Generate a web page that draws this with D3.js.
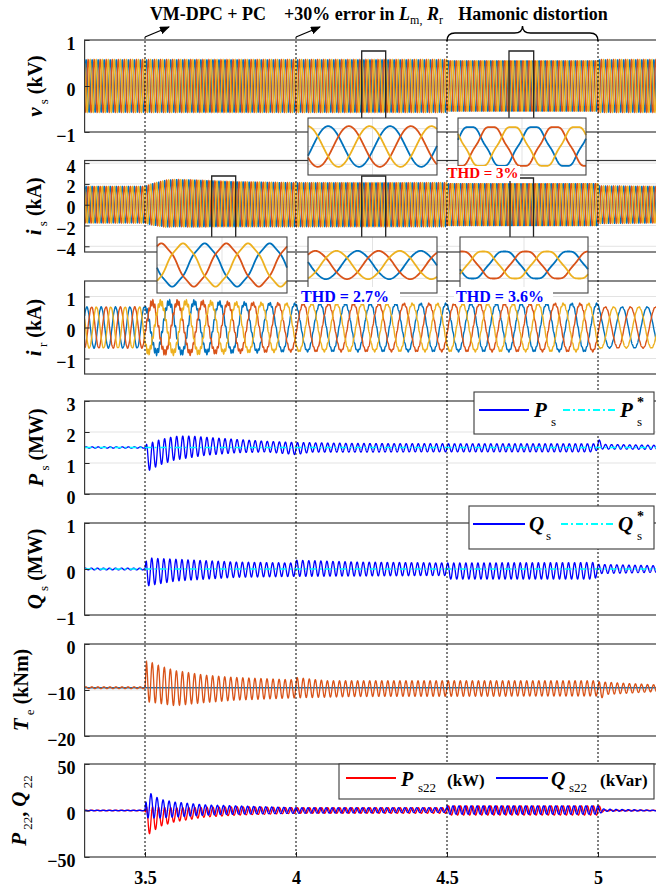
<!DOCTYPE html>
<html>
<head>
<meta charset="utf-8">
<script src="https://cdn.jsdelivr.net/npm/d3@7"></script>
<style>
body { margin: 0; background: #fff; }
svg { display: block; font-family: "Liberation Serif", "Times New Roman", serif; }
svg text { font-family: "Liberation Serif", "Times New Roman", serif; }
</style>
</head>
<body>
<div id="chart"></div>
<script>
// ---- data ----
var xTicks = [3.5, 4, 4.5, 5];
var eventTimes = [3.5, 4, 4.5, 5];
var titleTexts = ["VM-DPC + PC", "+30% error in ", "Hamonic distortion"];
var thdTexts = ["THD = 3%", "THD = 2.7%", "THD = 3.6%"];
var phaseColors = ["#0072BD", "#D95319", "#EDB120"];

// envelopes as [time, value] knots
var vsAmp = [[3.3, 0.57], [5.2, 0.57]];
var vsHarm = [[3.3, 0], [4.5, 0], [4.5, -0.05], [5, -0.05], [5, 0], [5.2, 0]];
var isAmp = [[3.3, 1.75], [3.5, 1.75], [3.52, 1.95], [3.57, 2.25], [3.65, 2.25], [3.8, 2.15], [4.0, 2.1], [5.0, 2.1], [5.0, 1.8], [5.2, 1.75]];
var isOffset = [[3.3, 0], [3.5, 0], [3.6, 0.15], [3.8, 0.05], [4.0, 0], [5.2, 0]];
var isHarm = [[3.3, 0], [4.5, 0], [4.5, -0.04], [5, -0.04], [5, 0], [5.2, 0]];
var irAmp = [[3.3, 0.66], [3.5, 0.66], [3.51, 0.8], [3.65, 0.82], [3.8, 0.78], [4.0, 0.76], [5.0, 0.76], [5.01, 0.66], [5.2, 0.66]];
var irFreq = [[3.3, 21], [3.5, 12], [5.2, 12]];
var irRipple = [[3.3, 0.01], [3.5, 0.01], [3.505, 0.1], [3.8, 0.06], [4.0, 0.03], [5.0, 0.03], [5.0, 0.01], [5.2, 0.01]];

var psUpper = [[3.3, 1.52], [3.5, 1.52], [3.505, 1.6], [3.55, 1.75], [3.6, 1.86], [3.65, 1.87], [3.7, 1.83], [3.8, 1.76], [3.9, 1.7], [4.0, 1.66], [4.2, 1.63], [4.5, 1.62], [4.99, 1.62], [5.0, 1.78], [5.02, 1.6], [5.2, 1.57]];
var psLower = [[3.3, 1.48], [3.5, 1.48], [3.505, 0.72], [3.53, 0.85], [3.56, 0.98], [3.6, 1.1], [3.7, 1.25], [3.8, 1.33], [3.9, 1.36], [4.0, 1.27], [4.05, 1.35], [4.5, 1.36], [4.99, 1.36], [5.0, 1.45], [5.2, 1.44]];
var psRef = 1.5;
var qsUpper = [[3.3, 0.02], [3.5, 0.02], [3.505, 0.24], [3.6, 0.21], [3.8, 0.15], [3.99, 0.13], [4.0, 0.19], [4.2, 0.15], [4.5, 0.13], [4.99, 0.14], [5.0, 0.1], [5.2, 0.07]];
var qsLower = [[3.3, -0.02], [3.5, -0.02], [3.505, -0.37], [3.6, -0.26], [3.8, -0.18], [4.0, -0.16], [4.5, -0.14], [4.5, -0.22], [4.99, -0.22], [5.0, -0.1], [5.2, -0.07]];
var qsRef = 0;
var teUpper = [[3.3, -9.3], [3.5, -9.3], [3.505, -3.6], [3.55, -4.8], [3.6, -5.8], [3.7, -6.8], [3.8, -7.3], [3.99, -7.8], [4.0, -7.3], [4.1, -8.0], [4.99, -8.0], [5.0, -8.2], [5.1, -8.6], [5.2, -8.9]];
var teLower = [[3.3, -9.7], [3.5, -9.7], [3.505, -12.5], [3.6, -13.4], [3.7, -12.7], [3.8, -12.2], [4.0, -11.7], [4.2, -11.4], [5.0, -11.3], [5.005, -12.6], [5.02, -11], [5.2, -10.3]];
var teRef = -9.5;
var p22Upper = [[3.3, 0.3], [3.5, 0.3], [3.505, 4], [3.6, 3], [3.8, 4], [4.0, 3], [4.5, 3], [4.5, 5], [4.99, 5], [5.0, 6], [5.02, 0.5], [5.2, 0.3]];
var p22Lower = [[3.3, -0.3], [3.5, -0.3], [3.505, -27], [3.55, -17], [3.6, -12], [3.7, -7], [3.8, -5], [4.0, -3], [4.5, -3], [4.5, -5], [5.0, -5], [5.02, -0.5], [5.2, -0.3]];
var q22Upper = [[3.3, 0.3], [3.5, 0.3], [3.505, 21], [3.55, 12], [3.6, 9], [3.7, 6], [3.8, 5], [4.0, 3], [4.5, 3], [4.5, 5], [5.0, 5], [5.02, 1.5], [5.2, 0.3]];
var q22Lower = [[3.3, -0.3], [3.5, -0.3], [3.505, -8], [3.55, -8], [3.6, -7], [3.7, -5], [3.8, -4], [4.0, -3], [4.5, -2], [4.5, -4], [5.0, -4], [5.02, -1], [5.2, -0.3]];

// zoomed insets: start phase (deg), cycles shown, amplitude, 5th harmonic, y range, grid step
var insetPhase = [-27, 22, 186, 168, 200];
var insetCycles = [2.08, 2.01, 2.0, 2.04, 2.0];
var insetAmp = [0.57, 0.57, 2.3, 2.1, 2.1];
var insetHarm = [0, -0.05, 0.04, 0.01, -0.035];
var insetYMax = [0.8, 0.8, 3.1, 4.2, 4.2];
var insetGrid = [0.5, 0.5, 2, 2, 2];

// ---- layout ----
var W = 656, H = 892;
var svg = d3.select("#chart").append("svg").attr("width", W).attr("height", H);
var x = d3.scaleLinear().domain([3.3, 5.2]).range([84.6, 658.4]);
var times = d3.range(3.3, 5.2001, 0.0004);
var SERIF = "'Liberation Serif', 'Times New Roman', serif";

function env(k, t) {
    if (t <= k[0][0]) return k[0][1];
    var i = k.length - 1;
    while (i > 0 && k[i][0] > t) i--;
    if (i === k.length - 1) return k[i][1];
    var a = k[i], b = k[i + 1];
    return a[1] + (b[1] - a[1]) * (t - a[0]) / (b[0] - a[0]);
}

var panels = [
    {top: 40, bottom: 132, dom: [-1, 1], ticks: [-1, 0, 1], labX: 42,
     label: [["v", "m"], [" s", "sub"], [" (kV)", "b"]]},
    {top: 160.5, bottom: 252, dom: [-4.55, 4.25], ticks: [-4, -2, 0, 2, 4], labX: 41,
     label: [["i", "m"], [" s", "sub"], [" (kA)", "b"]]},
    {top: 281, bottom: 374, dom: [-1.5, 1.5], ticks: [-1, 0, 1], labX: 41,
     label: [["i", "m"], [" r", "sub"], [" (kA)", "b"]]},
    {top: 401, bottom: 494, dom: [0, 3], ticks: [0, 1, 2, 3], labX: 43,
     label: [["P", "m"], [" s", "sub"], [" (MW)", "b"]]},
    {top: 523, bottom: 615, dom: [-1, 1], ticks: [-1, 0, 1], labX: 42,
     label: [["Q", "m"], [" s", "sub"], [" (MW)", "b"]]},
    {top: 644, bottom: 736, dom: [-20, 0], ticks: [-20, -10, 0], labX: 28,
     label: [["T", "m"], [" e", "sub"], [" (kNm)", "b"]]},
    {top: 764, bottom: 857, dom: [-50, 50], ticks: [-50, 0, 50], labX: 26,
     label: [["P", "m"], [" 22", "sub"], [", ", "b"], ["Q", "m"], [" 22", "sub"]]}
];

var defs = svg.append("defs");
defs.append("marker").attr("id", "arrow").attr("markerUnits", "userSpaceOnUse")
    .attr("markerWidth", 10).attr("markerHeight", 8).attr("refX", 9).attr("refY", 4)
    .attr("orient", "auto")
    .append("path").attr("d", "M0,0 L10,4 L0,8 Z").attr("fill", "#000");

panels.forEach(function (p, i) {
    p.y = d3.scaleLinear().domain(p.dom).range([p.bottom, p.top]);
    defs.append("clipPath").attr("id", "clip" + i).append("rect")
        .attr("x", x.range()[0]).attr("y", p.top)
        .attr("width", x.range()[1] - x.range()[0]).attr("height", p.bottom - p.top);
    var g = svg.append("g");
    p.g = g;
    // grid
    g.selectAll(".grid").data(p.ticks.filter(function (d) { return d !== p.dom[0] && d !== p.dom[1]; }))
        .enter().append("line")
        .attr("x1", x.range()[0]).attr("x2", x.range()[1])
        .attr("y1", function (d) { return p.y(d); }).attr("y2", function (d) { return p.y(d); })
        .attr("stroke", "#e3e3e3").attr("stroke-width", 1);
    p.plot = g.append("g").attr("clip-path", "url(#clip" + i + ")");
});

var lineOf = function (p) {
    return d3.line().x(function (d) { return x(d[0]); }).y(function (d) { return p.y(d[1]); });
};

// three phase strips
function threePhase(p, theta, ampK, harmK, offK, ripK) {
    [0, 1, 2].forEach(function (k) {
        var sh = [0, 120, -120][k] * Math.PI / 180;
        var pts = times.map(function (t, i) {
            var th = theta[i] - sh;
            var v = env(ampK, t) * (Math.sin(th) + (harmK ? env(harmK, t) : 0) * Math.sin(5 * th));
            if (offK) v += env(offK, t);
            if (ripK) v += env(ripK, t) * Math.sin(2 * Math.PI * 150 * t + 2.1 * k);
            return [t, v];
        });
        p.plot.append("path").attr("d", lineOf(p)(pts)).attr("fill", "none")
            .attr("stroke", phaseColors[k]).attr("stroke-width", 1.4);
    });
}
var theta50 = times.map(function (t) { return 2 * Math.PI * 50 * t; });
threePhase(panels[0], theta50, vsAmp, vsHarm, null, null);
threePhase(panels[1], theta50, isAmp, isHarm, isOffset, null);
var thR = [], acc = 0;
var irFreqStep = [[3.3, irFreq[0][1]], [3.4999, irFreq[0][1]], [3.5, irFreq[1][1]], [5.2, irFreq[2][1]]];
times.forEach(function (t, i) {
    if (i > 0) acc += 2 * Math.PI * env(irFreqStep, t) * (t - times[i - 1]);
    thR.push(acc + 0.6);
});
threePhase(panels[2], thR, irAmp, null, null, irRipple);

// oscillating single signals
function osc(upK, loK, ph) {
    return times.map(function (t) {
        var u = env(upK, t), l = env(loK, t);
        return [t, (u + l) / 2 + (u - l) / 2 * Math.sin(2 * Math.PI * 50 * t + ph)];
    });
}
function refLine(p, v, color, dash) {
    p.plot.append("line").attr("x1", x(3.3)).attr("x2", x(5.2))
        .attr("y1", p.y(v)).attr("y2", p.y(v))
        .attr("stroke", color).attr("stroke-width", 1.6).attr("stroke-dasharray", dash);
}
function drawSig(p, pts, color) {
    p.plot.append("path").attr("d", lineOf(p)(pts)).attr("fill", "none")
        .attr("stroke", color).attr("stroke-width", 1.3);
}
drawSig(panels[3], osc(psUpper, psLower, 0), "#0000FF");
refLine(panels[3], psRef, "#00FFFF", "7,3,2,3");
drawSig(panels[4], osc(qsUpper, qsLower, 0.8), "#0000FF");
refLine(panels[4], qsRef, "#00FFFF", "7,3,2,3");
refLine(panels[5], teRef, "#0072BD", null);
drawSig(panels[5], osc(teUpper, teLower, 0.3), "#D95319");
drawSig(panels[6], osc(p22Upper, p22Lower, 0), "#FF0000");
drawSig(panels[6], osc(q22Upper, q22Lower, 1.6), "#0000FF");

// axes, boxes, labels
panels.forEach(function (p, i) {
    var ax = p.g.append("g").attr("transform", "translate(" + x.range()[0] + ",0)")
        .call(d3.axisLeft(p.y).tickValues(p.ticks).tickFormat(d3.format("~g"))
            .tickSizeInner(-5).tickSizeOuter(0).tickPadding(9));
    ax.select(".domain").remove();
    ax.attr("font-family", null);
    ax.selectAll("line").attr("stroke", "#262626");
    ax.selectAll("text").style("font-size", "18px").style("font-weight", "bold")
        .style("font-family", SERIF).attr("fill", "#000").attr("dy", "0.5em");
    p.g.append("rect").attr("x", x.range()[0]).attr("y", p.top)
        .attr("width", x.range()[1] - x.range()[0]).attr("height", p.bottom - p.top)
        .attr("fill", "none").attr("stroke", "#3a3a3a").attr("stroke-width", 1.2);
    var cy = (p.top + p.bottom) / 2;
    var lab = svg.append("text").attr("transform", "translate(" + p.labX + "," + cy + ") rotate(-90)")
        .attr("text-anchor", "middle").attr("font-size", 20).attr("font-weight", "bold");
    var prevSub = false;
    p.label.forEach(function (part) {
        var ts = lab.append("tspan").text(part[0]);
        if (part[1] === "m") ts.attr("font-style", "italic").attr("font-size", 21);
        if (part[1] === "sub") ts.attr("font-size", 13).attr("font-weight", "normal").attr("dy", 6);
        else if (prevSub) ts.attr("dy", -6);
        prevSub = part[1] === "sub";
    });
});

// x axis on the last panel
var last = panels[6];
var xa = svg.append("g").attr("transform", "translate(0," + last.bottom + ")")
    .call(d3.axisBottom(x).tickValues(xTicks).tickFormat(d3.format("~g")).tickSizeInner(-5).tickSizeOuter(0).tickPadding(14));
xa.select(".domain").remove();
xa.attr("font-family", null);
xa.selectAll("line").attr("stroke", "#262626");
xa.selectAll("text").style("font-size", "18px").style("font-weight", "bold")
    .style("font-family", SERIF).attr("fill", "#000");

// event lines
svg.selectAll(".evt").data(eventTimes).enter().append("line")
    .attr("x1", function (d) { return x(d); }).attr("x2", function (d) { return x(d); })
    .attr("y1", function (d) { return d < 4.5 ? 37 : 40; }).attr("y2", last.bottom)
    .attr("stroke", "#000").attr("stroke-width", 1).attr("stroke-dasharray", "2,2");

// arrows and brace
[3.5, 4].forEach(function (t) {
    svg.append("line").attr("x1", x(t)).attr("y1", 37).attr("x2", x(t) + 24).attr("y2", 27)
        .attr("stroke", "#000").attr("stroke-width", 1.3).attr("marker-end", "url(#arrow)");
});
var bx0 = x(4.5), bx1 = x(5), bm = (bx0 + bx1) / 2;
svg.append("path")
    .attr("d", "M" + bx0 + ",41 Q" + bx0 + ",33 " + (bx0 + 8) + ",33 L" + (bm - 8) + ",33 Q" + bm + ",33 " + bm + ",26 Q" + bm + ",33 " + (bm + 8) + ",33 L" + (bx1 - 8) + ",33 Q" + bx1 + ",33 " + bx1 + ",41")
    .attr("fill", "none").attr("stroke", "#000").attr("stroke-width", 1.4);

// titles
svg.append("text").attr("x", 208).attr("y", 20).attr("text-anchor", "middle")
    .attr("font-size", 18).attr("font-weight", "bold").text(titleTexts[0]);
var t2 = svg.append("text").attr("x", 284).attr("y", 20).attr("font-size", 18).attr("font-weight", "bold");
t2.append("tspan").text(titleTexts[1]);
t2.append("tspan").attr("font-style", "italic").text("L");
t2.append("tspan").attr("font-size", 12).attr("font-weight", "normal").attr("dy", 4).text("m,");
t2.append("tspan").attr("dy", -4).text(" ");
t2.append("tspan").attr("font-style", "italic").text("R");
t2.append("tspan").attr("font-size", 12).attr("font-weight", "normal").attr("dy", 4).text("r");
svg.append("text").attr("x", 533).attr("y", 20).attr("text-anchor", "middle")
    .attr("font-size", 18).attr("font-weight", "bold").text(titleTexts[2]);

// zoom rectangles (open at the bottom, leading to the inset)
var zoomRects = [[361.7, 385.7, 51, 118], [509, 533.7, 51, 118], [510, 533.5, 178, 237],
                 [211.7, 235.7, 176, 237], [361.7, 385.7, 176, 237]];
zoomRects.forEach(function (r) {
    svg.append("path").attr("d", "M" + r[0] + "," + r[3] + " V" + r[2] + " H" + r[1] + " V" + r[3])
        .attr("fill", "none").attr("stroke", "#222").attr("stroke-width", 1.3);
});

// insets
var insetBoxes = [[308, 437, 118, 175], [458, 586, 118, 175], [157, 287, 237, 293],
                  [308, 437, 237, 293], [460, 588, 237, 293]];
insetBoxes.forEach(function (b, n) {
    var g = svg.append("g");
    var ix = d3.scaleLinear().domain([0, insetCycles[n]]).range([b[0], b[1]]);
    var iy = d3.scaleLinear().domain([-insetYMax[n], insetYMax[n]]).range([b[3], b[2]]);
    g.append("rect").attr("x", b[0]).attr("y", b[2]).attr("width", b[1] - b[0]).attr("height", b[3] - b[2])
        .attr("fill", "#fff");
    [-insetGrid[n], 0, insetGrid[n]].forEach(function (v) {
        g.append("line").attr("x1", b[0]).attr("x2", b[1]).attr("y1", iy(v)).attr("y2", iy(v))
            .attr("stroke", "#e3e3e3");
    });
    g.append("line").attr("x1", (b[0] + b[1]) / 2).attr("x2", (b[0] + b[1]) / 2)
        .attr("y1", b[2]).attr("y2", b[3]).attr("stroke", "#e3e3e3");
    var cyc = d3.range(0, insetCycles[n] + 0.0001, insetCycles[n] / 240);
    [0, 1, 2].forEach(function (k) {
        var sh = [0, 120, -120][k];
        var pts = cyc.map(function (c) {
            var th = (insetPhase[n] + 360 * c - sh) * Math.PI / 180;
            return [c, insetAmp[n] * (Math.sin(th) + insetHarm[n] * Math.sin(5 * th))];
        });
        g.append("path").attr("d", d3.line().x(function (d) { return ix(d[0]); }).y(function (d) { return iy(d[1]); })(pts))
            .attr("fill", "none").attr("stroke", phaseColors[k]).attr("stroke-width", 1.8);
    });
    g.append("rect").attr("x", b[0]).attr("y", b[2]).attr("width", b[1] - b[0]).attr("height", b[3] - b[2])
        .attr("fill", "none").attr("stroke", "#444").attr("stroke-width", 1.1);
});

// THD notes
var thdPos = [[483, 178, "#FF0000", 15, 448, 520, 166, 181],
              [345, 301.5, "#0000FF", 16, 297, 400, 287, 304],
              [500, 301.5, "#0000FF", 16, 454, 553, 287, 304]];
thdPos.forEach(function (q, n) {
    svg.append("rect").attr("x", q[4]).attr("y", q[6]).attr("width", q[5] - q[4]).attr("height", q[7] - q[6])
        .attr("fill", "#fff");
    svg.append("text").attr("x", q[0]).attr("y", q[1]).attr("text-anchor", "middle")
        .attr("font-size", q[3]).attr("font-weight", "bold").attr("fill", q[2]).text(thdTexts[n]);
});

// legends
function legendBox(x0, y0, w, h) {
    svg.append("rect").attr("x", x0).attr("y", y0).attr("width", w).attr("height", h)
        .attr("fill", "#fff").attr("stroke", "#3a3a3a").attr("stroke-width", 1.1);
}
function legLine(x0, x1, yy, color, dash) {
    svg.append("line").attr("x1", x0).attr("x2", x1).attr("y1", yy).attr("y2", yy)
        .attr("stroke", color).attr("stroke-width", 2).attr("stroke-dasharray", dash);
}
function legText(xx, yy, s, size, style, weight) {
    svg.append("text").attr("x", xx).attr("y", yy).attr("font-size", size)
        .attr("font-style", style || "normal").attr("font-weight", weight || "bold").text(s);
}
legendBox(474, 392, 180, 42);
legLine(479, 529, 410, "#0000FF", null);
legText(534, 417, "P", 21, "italic");
legText(551, 426, "s", 13, null, "normal");
legLine(563, 617, 410, "#00FFFF", "7,3,2,3");
legText(620, 417, "P", 21, "italic");
legText(637, 407, "*", 14);
legText(637, 426, "s", 13, null, "normal");

legendBox(469, 506, 185, 43);
legLine(473, 525, 524, "#0000FF", null);
legText(529, 531, "Q", 21, "italic");
legText(546, 540, "s", 13, null, "normal");
legLine(561, 615, 524, "#00FFFF", "7,3,2,3");
legText(618, 531, "Q", 21, "italic");
legText(637, 521, "*", 14);
legText(637, 540, "s", 13, null, "normal");

legendBox(339, 764, 315, 35);
legLine(346, 396, 778, "#FF0000", null);
legText(401, 786, "P", 20, "italic");
legText(418, 792, "s22", 13, null, "normal");
legText(447, 786, "(kW)", 17);
legLine(496, 548, 778, "#0000FF", null);
legText(551, 786, "Q", 20, "italic");
legText(569, 792, "s22", 13, null, "normal");
legText(600, 786, "(kVar)", 17);
</script>
</body>
</html>
